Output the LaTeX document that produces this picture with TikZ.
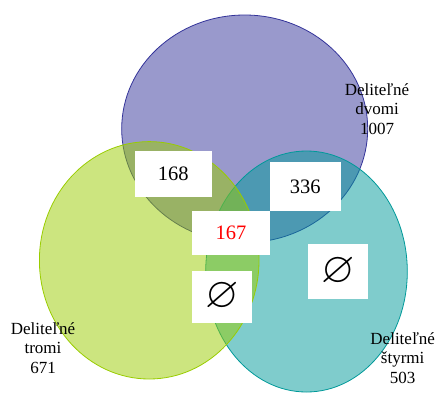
\documentclass[tikz,border=0pt]{standalone}
\usepackage{amssymb}
\usepackage{graphicx}
\usepackage{fontspec}
\setmainfont{Liberation Serif}
\begin{document}
\begin{tikzpicture}[x=1pt,y=-1pt,
  numbox/.style={fill=white,inner sep=0pt,font=\fontsize{20.5}{22}\selectfont},
  setlabel/.style={align=center,font=\fontsize{17}{19.5}\selectfont}]
\definecolor{purpA}{HTML}{333399}
\definecolor{tealB}{HTML}{009999}
\definecolor{greenC}{HTML}{99CC00}
\newcommand{\emptymark}{\scalebox{2.1}{$\varnothing$}}
\useasboundingbox (0,0) rectangle (437,392);
\begin{scope}
\clip (0,0) rectangle (437,392);
\fill[purpA,fill opacity=0.5] (244.7,128.8) ellipse [x radius=123, y radius=113.8];
\draw[purpA,line width=0.8pt] (244.7,128.8) ellipse [x radius=123, y radius=113.8];
\fill[tealB,fill opacity=0.5] (306.5,271.5) ellipse [x radius=100.8, y radius=120.5];
\draw[tealB,line width=0.8pt] (306.5,271.5) ellipse [x radius=100.8, y radius=120.5];
\fill[greenC,fill opacity=0.5] (149.2,260.3) ellipse [x radius=109.8, y radius=118.7];
\draw[greenC,line width=0.8pt] (149.2,260.3) ellipse [x radius=109.8, y radius=118.7];
\end{scope}
\node[numbox,minimum width=76.7pt,minimum height=45.7pt] (ab) at (173.3,173.8) {168};
\node[numbox,minimum width=70.7pt,minimum height=48.4pt] (bd) at (305.3,186.5) {336};
\node[numbox,minimum width=77.4pt,minimum height=43.7pt,text=red] (abc) at (231,232.8) {167};
\node[numbox,minimum width=59.4pt,minimum height=51.7pt] (cd) at (222,296.8) {\emptymark};
\node[numbox,minimum width=59.7pt,minimum height=55.3pt] (bdx) at (337.8,271.6) {\emptymark};
\node[setlabel] (ldvomi) at (377,109) {Deliteľné\\dvomi\\1007};
\node[setlabel] (ltromi) at (43,348) {Deliteľné\\tromi\\671};
\node[setlabel] (lstyrmi) at (402.7,358) {Deliteľné\\štyrmi\\503};
\end{tikzpicture}
\end{document}
